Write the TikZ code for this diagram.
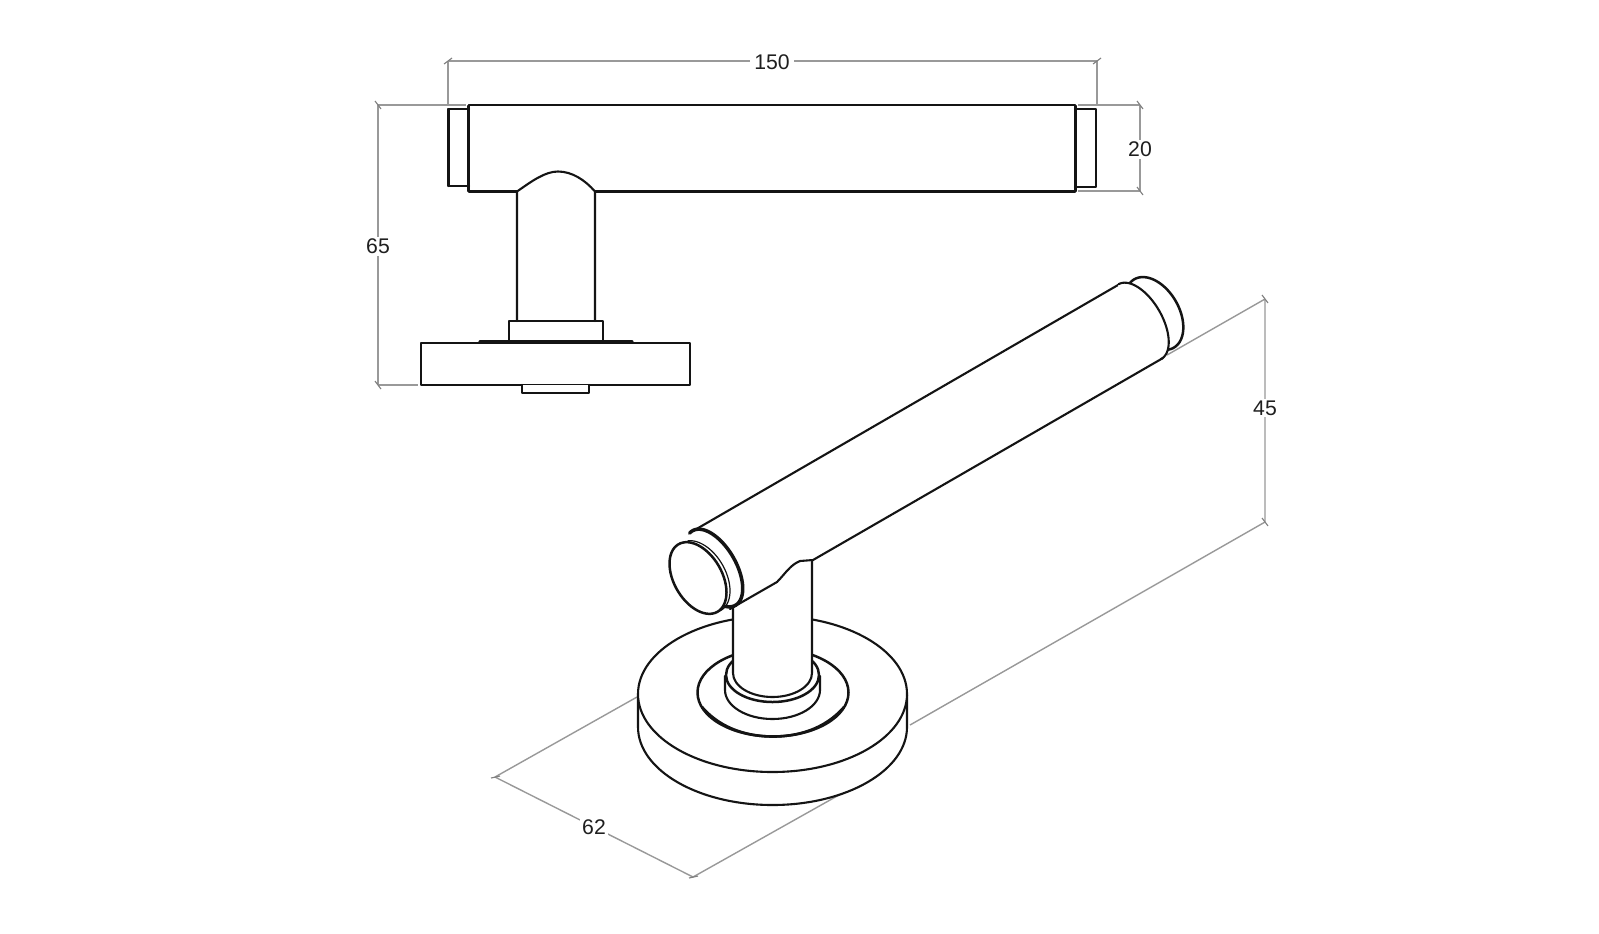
\documentclass[tikz,border=0pt]{standalone}
\usepackage{fontspec}
\setmainfont{Liberation Sans}
% arc of an ellipse lying across the 30-degree handle axis
% #1,#2 centre; #3 half size across the axis; #4 half size along the axis; #5,#6 parameter range
\newcommand{\axisarc}[6]{plot[domain=#5:#6,samples=60,smooth] ({#1+#4*cos(\x)*0.866+#3*sin(\x)*0.5},{#2-#4*cos(\x)*0.5+#3*sin(\x)*0.866})}
\newcommand{\axisarcto}[6]{-- plot[domain=#5:#6,samples=60,smooth] ({#1+#4*cos(\x)*0.866+#3*sin(\x)*0.5},{#2-#4*cos(\x)*0.5+#3*sin(\x)*0.866})}
\tikzset{
  inkline/.style={draw=black!92,line width=1.05pt,line join=round,line cap=round},
  midline/.style={inkline,line width=1.25pt},
  thinline/.style={inkline,line width=0.6pt},
  dimline/.style={draw=black!40,line width=0.7pt},
  ticksign/.style={draw=black!50,line width=0.55pt},
  dimlabel/.style={fill=white,inner xsep=2.2pt,inner ysep=1pt,text=black!88,font=\fontsize{10.6pt}{12pt}\selectfont},
}
\begin{document}
\begin{tikzpicture}[x=0.5pt,y=-0.5pt]
\useasboundingbox (0,0) rectangle (1599,933);
\fill[white] (0,0) rectangle (1599,933);
% ---------- dimension geometry
\coordinate (w1) at (448,61);   \coordinate (w2) at (1097,61);
\coordinate (w1b) at (448,106); \coordinate (w2b) at (1097,106);
\coordinate (h1) at (378,105);  \coordinate (h2) at (378,385);
\coordinate (h1b) at (466,105); \coordinate (h2b) at (418,385);
\coordinate (t1) at (1140,105); \coordinate (t2) at (1140,191);
\coordinate (t1b) at (1078,105);\coordinate (t2b) at (1078,191);
\coordinate (p1) at (1265,299); \coordinate (p2) at (1265,522);
\coordinate (p1b) at (1167,355);\coordinate (p2b) at (910,725);
\coordinate (d1) at (495,777);  \coordinate (d2) at (693,877);
\coordinate (d1b) at (637,697); \coordinate (d2b) at (887,768);
\draw[dimline] (w1) -- (w2) (w1) -- (w1b) (w2) -- (w2b);
\draw[dimline] (h1) -- (h2) (h1) -- (h1b) (h2) -- (h2b);
\draw[dimline] (t1) -- (t2) (t1) -- (t1b) (t2) -- (t2b);
\draw[dimline] (p1) -- (p2) (p1) -- (p1b) (p2) -- (p2b);
\draw[dimline] (d1) -- (d2) (d1) -- (d1b) (d2) -- (d2b);
\draw[ticksign] ([shift={(-4,3)}]w1) -- ([shift={(4,-3)}]w1);
\draw[ticksign] ([shift={(-4,3)}]w2) -- ([shift={(4,-3)}]w2);
\foreach \c in {h1,h2,t1,t2,p1,p2}
  \draw[ticksign] ([shift={(-3,-4)}]\c) -- ([shift={(3,4)}]\c);
\foreach \c in {d1,d2}
  \draw[ticksign] ([shift={(-4,1)}]\c) -- ([shift={(5,-1)}]\c);
\node[dimlabel] (lw) at (772,62) {150};
\node[dimlabel] (lh) at (378,246) {65};
\node[dimlabel] (lt) at (1140,149) {20};
\node[dimlabel] (lp) at (1265,408) {45};
\node[dimlabel,inner xsep=1pt] (ld) at (594,827) {62};
% ---------- front view
\draw[inkline,fill=white] (509,341) -- (509,321) -- (603,321) -- (603,341);
\draw[inkline,fill=white] (421,343) rectangle (690,385);
\draw[inkline,fill=white] (522,385) -- (522,393) -- (589,393) -- (589,385);
\draw[inkline,line width=1.6pt] (480,342) -- (632,342);
\draw[inkline,fill=white] (469,105) rectangle (1075,191.5);
\fill[white] (518,195) -- (518,190) .. controls (532,180) and (545,171.5) .. (558,171.5) .. controls (572,171.5) and (584,180) .. (594,190) -- (594,195) -- cycle;
\draw[inkline] (517,321) -- (517,191.5) .. controls (532,181) and (545,171.5) .. (558,171.5) .. controls (572,171.5) and (585,180) .. (595,191.5) -- (595,321);
\draw[inkline] (469,109) -- (448,109) -- (448,186) -- (469,186);
\draw[inkline] (1075,109) -- (1096,109) -- (1096,187) -- (1075,187);
\draw[inkline,line width=1.7pt] (448.5,110) -- (448.5,185.5);
\draw[inkline,line width=1.7pt] (468.5,106) -- (468.5,191);
\draw[inkline,line width=1.7pt] (1075.5,106) -- (1075.5,191);
\draw[midline] (1096,110) -- (1096,186);
% ---------- isometric view: rose
\draw[inkline,fill=white] (638,695) -- (638,727) arc[start angle=180,end angle=0,x radius=134.5,y radius=78] -- (907,695);
\draw[inkline,fill=white] (772.5,694) ellipse[x radius=134.5,y radius=78];
\draw[midline,fill=white] (773,692.5) ellipse[x radius=75.5,y radius=44];
\draw[inkline,line width=1.3pt] (702,707) .. controls (722,730) and (750,736.5) .. (773,736.5) .. controls (796,736.5) and (824,730) .. (844,707);
\draw[inkline,fill=white] (725,676) -- (725,690) arc[start angle=180,end angle=0,x radius=47.5,y radius=29] -- (820,676);
\draw[midline,fill=white] (772.5,675) ellipse[x radius=46.5,y radius=27];
% stem
\draw[inkline,fill=white] (733,607) -- (733,673) arc[start angle=180,end angle=0,x radius=39.5,y radius=24] -- (812,560);
% lever
\fill[white] (694,530) -- (1118,284) \axisarcto{1140}{321.5}{43}{22}{-90}{90} -- (813,560) -- (733,607) -- (700,610) -- cycle;
\draw[inkline] (693,531) -- (1118,285);
\draw[midline,fill=white] \axisarc{1154}{313.5}{39.5}{25}{-103}{112};
\fill[white] \axisarc{1140}{321.5}{43}{22}{-92}{92};
\draw[inkline] \axisarc{1140}{321.5}{43}{22}{-90}{92};
\draw[inkline] (1163,358) -- (813,560) -- (800,561) .. controls (790,565) and (785,574) .. (777,582) -- (730,609);
% end cap
\draw[inkline,line width=1.75pt] \axisarc{714}{568}{43}{22}{-100}{115};
\draw[thinline] \axisarc{701.5}{576.5}{39}{24}{-75}{102};
\draw[midline,fill=white] \axisarc{698}{578}{39}{24}{0}{360};
\end{tikzpicture}
\end{document}
